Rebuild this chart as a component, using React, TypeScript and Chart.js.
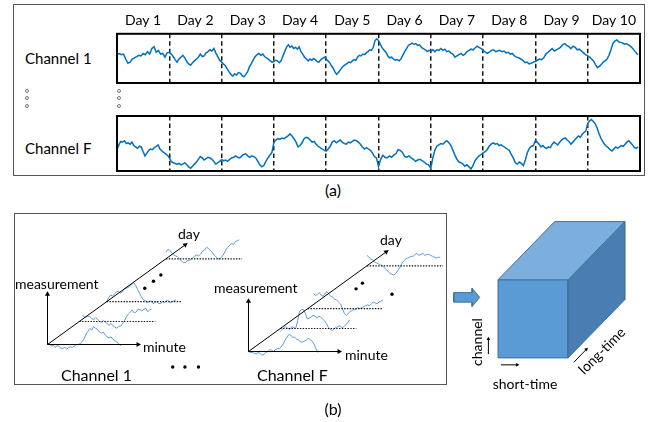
import React, { useEffect, useRef } from "react";
import { Chart, registerables } from "chart.js";

Chart.register(...registerables);

const FONT = "Lato, 'Noto Sans', sans-serif";
const TRACE_BLUE = "#0070C0";
const SKETCH_BLUE = "#5B9BD5";

// ---------- panel (a) data ----------
const dayLabels = ["Day 1", "Day 2", "Day 3", "Day 4", "Day 5", "Day 6", "Day 7", "Day 8", "Day 9", "Day 10"];

const channel1Values = [
  [95, 98, 94, 96, 80, 66, 70, 80, 84, 88, 92, 90, 98, 94, 104, 96, 114, 120, 102, 108, 96, 98, 86, 100],
  [102, 96, 88, 78, 70, 80, 86, 92, 84, 72, 64, 60, 68, 74, 80, 86, 96, 88, 90, 100, 104, 110, 106, 114, 100, 88, 76],
  [70, 64, 58, 48, 38, 30, 24, 32, 28, 36, 34, 26, 22, 30, 40, 56, 66, 78, 88, 94, 98, 92, 96, 88, 84, 80, 74, 70],
  [72, 76, 74, 68, 74, 90, 104, 118, 126, 118, 122, 114, 118, 112, 120, 104, 96, 86, 80, 74, 80, 76, 82, 78, 72, 70, 78, 82, 86],
  [80, 74, 68, 58, 50, 38, 30, 36, 44, 52, 58, 62, 66, 70, 68, 74, 78, 76, 86, 92, 90, 96, 94, 100, 104, 110, 108, 118, 140, 146],
  [140, 128, 116, 108, 102, 90, 84, 86, 80, 76, 78, 74, 80, 92, 104, 114, 124, 128, 132, 128, 130, 124, 126, 118, 114, 110, 104, 108],
  [105, 110, 104, 110, 108, 114, 108, 112, 104, 106, 100, 96, 86, 90, 94, 98, 92, 96, 104, 108, 112, 110, 116, 122, 118, 114],
  [108, 102, 98, 102, 108, 110, 104, 106, 108, 104, 106, 100, 102, 96, 98, 90, 86, 84, 80, 76, 68, 70, 64, 66, 70],
  [72, 76, 80, 78, 84, 96, 102, 108, 114, 106, 110, 114, 118, 126, 130, 124, 120, 114, 122, 118, 110, 112, 106, 100, 94],
  [90, 86, 80, 74, 62, 52, 56, 62, 70, 74, 80, 92, 110, 130, 138, 142, 136, 134, 132, 128, 130, 126, 122, 116, 108, 100, 94],
];

const channelFValues = [
  [65, 78, 88, 86, 90, 82, 84, 80, 86, 76, 72, 68, 74, 72, 58, 46, 54, 62, 66, 64, 70, 74, 78, 66, 60, 56, 52, 48],
  [40, 30, 26, 24, 22, 24, 20, 22, 26, 20, 14, 10, 16, 22, 28, 36, 44, 40, 34, 38, 42, 40, 36, 30, 22, 26, 30],
  [35, 32, 34, 30, 36, 40, 42, 46, 42, 40, 46, 50, 52, 46, 42, 46, 44, 40, 30, 20, 14, 18, 30, 40, 48, 56],
  [85, 92, 96, 94, 98, 96, 100, 104, 110, 104, 96, 86, 72, 76, 84, 96, 100, 98, 92, 86, 88, 80, 74, 70, 66, 62],
  [60, 66, 74, 86, 90, 84, 88, 92, 86, 82, 80, 86, 84, 88, 92, 90, 86, 80, 72, 66, 70, 66, 62, 54, 44, 40],
  [15, 36, 48, 42, 40, 46, 42, 48, 52, 64, 62, 56, 44, 42, 46, 40, 36, 30, 34, 36, 32, 28, 22, 20],
  [10, 40, 62, 74, 78, 82, 80, 86, 90, 84, 76, 62, 48, 36, 28, 26, 22, 16, 20, 14, 8, 18, 32, 40, 46, 50],
  [55, 58, 64, 74, 80, 84, 80, 82, 76, 78, 74, 70, 66, 62, 50, 40, 26, 22, 28, 24, 18, 34, 56, 68, 74, 76],
  [90, 86, 80, 72, 76, 70, 68, 72, 70, 80, 86, 82, 78, 86, 92, 96, 98, 92, 88, 80, 86, 92, 98, 104, 100, 108, 114, 118],
  [140, 148, 152, 146, 140, 128, 112, 98, 88, 80, 74, 70, 64, 60, 66, 72, 68, 72, 76, 74, 80, 86, 90, 84, 78, 70, 68, 72],
];

// ---------- panel (b) sketch data ----------
const sketchDayShift = [0, 33, 61.5, 123];
const sketchAxis = { measurement: 53, minute: 94, dayX: 143, dayY: 105 };
const baselineLengths = [0, 79, 77, 79];
const sketchStep = 2;

const channel1SketchStarts = [0, 3, 0, 0];
const channel1SketchWaves = [
  [0, 1, -1.5, -1, -3, -1, -2, -4, -4, -3, -5, -3, -2.5, -3, -1.5, 0, 0, 1, 3, 6, 11, 14, 17, 15, 19, 17, 16, 13, 12, 13, 10, 8, 7, 8, 5.5, 4, 2.5, 1, -1.5],
  [7, 5, 4.5, 6, 5, 3, 2, 4, 2.5, 0, -1, 1, -0.5, -2, -4, -2, -4.5, -6, -7, -5, -5, -2, 1, 5, 8, 10, 12, 9, 10, 13, 12.5, 11, 13, 14, 10.5, 12, 13],
  [0, 4, 7, 6, 8, 10, 11, 9, 10, 13, 14, 15, 16, 18, 20, 17, 13, 9, 5, 2, 1, -1, 0, 1, -2, -1, 0, -2, -2, 0, -1, 1, 1, -1, 0, 1, 2],
  [7, 10, 9, 6, 4, 3, 2, 0, -2, -4, -4, -2, -2, 0, 1, 3, 4, 3, 5, 8, 9, 12, 11, 9, 7, 4, 2, 0, 0, 2, 5, 9, 12, 14, 16, 15, 18, 19, 20],
];
const channel1SketchDots = [[101, 59.3], [110, 66.7], [117.7, 73.3], [130, -23.7], [142.7, -23.7], [156.7, -23.7]];

const channelFSketchStarts = [0, 0, 6, 0];
const channelFSketchWaves = [
  [0, -1, -1, -2, -2.5, -1, -2, -4, -3, -1, 0, 2, 1.5, 0, 2, 3, 3, 5, 8, 12, 15, 18, 17, 15, 15, 13, 12.5, 10, 10, 11, 12, 14, 12.5, 11, 8, 3, -1],
  [-3, -1, 1, 2, 0, -1, 2, 1, 0, 8, 18, 20, 20, 16, 10, 11, 12, 14, 13, 11, 13, 12, 10, 8, 5, 1, -1, -2, 0, 1, 2, 3, 1, 2, 4, 6, 9],
  [16, 14, 15, 17, 14, 13, 16, 18, 15, 13, 12, 10, 9, 7, 5, 0, -5, -7, -5, -3, -2, -1, -1, 1, 0, 1, 2, 3, 4, 3, 5, 7, 6, 5, 7, 8, 9],
  [11, 9, 7, 6, 4, 3, 2, 1, 0, -2, -4, -6, -8, -9, -10, -8, -5, -2, 2, 5, 7, 8, 9, 10, 10, 12, 13, 11, 12, 13, 11, 12, 12, 11, 10, 9, 8, 9, 9],
];
const channelFSketchDots = [[111.7, 66], [118.3, 72], [149, 60.3]];

// ---------- cube data ----------
const cubeFront = { x: 50, y: 19, w: 73, h: 82 };
const cubeDepth = { dx: 59, dy: 61 };
const blockArrow = { x0: 4, x1: 23, tip: 31, cy: 82.5, body: 5, head: 9.5 };

const baseOptions: any = {
  responsive: false,
  animation: false,
  events: [],
  plugins: { legend: { display: false }, tooltip: { enabled: false } },
};

const framePlugin = {
  id: "frame",
  afterDraw(chart: any) {
    const { ctx, chartArea: a } = chart;
    ctx.save();
    ctx.strokeStyle = "#000";
    ctx.lineWidth = 2;
    ctx.strokeRect(a.left, a.top, a.right - a.left, a.bottom - a.top);
    ctx.restore();
  },
};

function toPoints(days: number[][]) {
  const pts: { x: number; y: number }[] = [];
  days.forEach((vals, d) => vals.forEach((v, j) => pts.push({ x: d + j / vals.length, y: v })));
  return pts;
}

function ChannelChart({ values, showDays, left, top, width, height }: any) {
  const ref = useRef<HTMLCanvasElement>(null);
  useEffect(() => {
    const scales: any = {
      x: {
        type: "linear",
        min: 0,
        max: 10,
        position: "bottom",
        ticks: { display: false, stepSize: 1 },
        grid: {
          drawTicks: false,
          lineWidth: 1.5,
          color: (c: any) => (c.tick && c.tick.value > 0 && c.tick.value < 10 ? "#1a1a1a" : "rgba(0,0,0,0)"),
        },
        border: { display: false, dash: [4.5, 3] },
      },
      y: { type: "linear", min: 2, max: 162, display: false },
    };
    if (showDays) {
      scales.days = {
        type: "category",
        labels: dayLabels,
        position: "top",
        offset: true,
        grid: { display: false, drawTicks: false },
        border: { display: false },
        ticks: { color: "#000", font: { family: FONT, size: 14 }, padding: 5, maxRotation: 0, autoSkip: false },
      };
    }
    const chart = new Chart(ref.current!, {
      type: "line",
      data: {
        datasets: [
          {
            data: toPoints(values),
            borderColor: TRACE_BLUE,
            borderWidth: 1.5,
            pointRadius: 0,
            tension: 0,
            xAxisID: "x",
            yAxisID: "y",
          },
        ],
      },
      options: { ...baseOptions, layout: { padding: { left: 2, right: 2, top: showDays ? 0 : 2, bottom: 2 } }, scales },
      plugins: [framePlugin],
    } as any);
    return () => chart.destroy();
  }, []);
  return <canvas ref={ref} width={width} height={height} style={{ position: "absolute", left, top, width, height }} />;
}

function SketchChart({ waves, starts, dots, left, top }: any) {
  const ref = useRef<HTMLCanvasElement>(null);
  useEffect(() => {
    const slope = sketchAxis.dayY / sketchAxis.dayX;
    const arrow = (pts: any[], rot: number) => ({
      data: pts,
      borderColor: "#000",
      borderWidth: 1,
      pointRadius: [0, 3],
      pointStyle: "triangle",
      pointRotation: rot,
      pointBackgroundColor: "#000",
      pointBorderColor: "#000",
      pointBorderWidth: 0,
      tension: 0,
    });
    const datasets: any[] = [];
    datasets.push(arrow([{ x: 0, y: 0 }, { x: 0, y: sketchAxis.measurement }], 0));
    datasets.push(arrow([{ x: 0, y: 0 }, { x: sketchAxis.minute, y: 0 }], 90));
    datasets.push(
      arrow(
        [{ x: 0, y: 0 }, { x: sketchAxis.dayX, y: sketchAxis.dayY }],
        90 - (Math.atan2(sketchAxis.dayY, sketchAxis.dayX) * 180) / Math.PI
      )
    );
    sketchDayShift.forEach((s, k) => {
      const oy = s * slope;
      if (baselineLengths[k] > 0) {
        datasets.push({
          data: [{ x: s, y: oy }, { x: s + baselineLengths[k], y: oy }],
          borderColor: "#111",
          borderWidth: 1.2,
          borderDash: [1.4, 1.4],
          pointRadius: 0,
        });
      }
      datasets.push({
        data: waves[k].map((v: number, j: number) => ({ x: s + starts[k] + j * sketchStep, y: oy + v })),
        borderColor: SKETCH_BLUE,
        borderWidth: 1,
        pointRadius: 0,
        tension: 0,
      });
    });
    datasets.push({
      data: dots.map(([x, y]: number[]) => ({ x, y })),
      showLine: false,
      pointRadius: 1.7,
      pointBackgroundColor: "#000",
      pointBorderWidth: 0,
    });
    const chart = new Chart(ref.current!, {
      type: "line",
      data: { datasets },
      options: {
        ...baseOptions,
        layout: { padding: 0 },
        scales: {
          x: { type: "linear", min: -14, max: 204, display: false },
          y: { type: "linear", min: -30, max: 128, display: false },
        },
      },
    } as any);
    return () => chart.destroy();
  }, []);
  return <canvas ref={ref} width={218} height={158} style={{ position: "absolute", left, top, width: 218, height: 158 }} />;
}

function CubeChart() {
  const ref = useRef<HTMLCanvasElement>(null);
  useEffect(() => {
    const f = cubeFront;
    const d = cubeDepth;
    const poly = (pts: number[][], color: string) => ({
      data: [...pts, pts[0]].map(([x, y]) => ({ x, y })),
      fill: "shape",
      backgroundColor: color,
      borderColor: "#41719C",
      borderWidth: 1,
      pointRadius: 0,
      tension: 0,
    });
    const arrow = (pts: number[][], rot: number) => ({
      data: pts.map(([x, y]) => ({ x, y })),
      borderColor: "#000",
      borderWidth: 1,
      pointRadius: [0, 2.2],
      pointStyle: "triangle",
      pointRotation: rot,
      pointBackgroundColor: "#000",
      pointBorderWidth: 0,
      tension: 0,
    });
    const a = blockArrow;
    const datasets = [
      poly(
        [[f.x, f.y + f.h], [f.x + d.dx, f.y + f.h + d.dy], [f.x + f.w + d.dx, f.y + f.h + d.dy], [f.x + f.w, f.y + f.h]],
        "#7DAFDE"
      ),
      poly(
        [[f.x + f.w, f.y + f.h], [f.x + f.w + d.dx, f.y + f.h + d.dy], [f.x + f.w + d.dx, f.y + d.dy], [f.x + f.w, f.y]],
        "#4A7EB2"
      ),
      poly([[f.x, f.y], [f.x, f.y + f.h], [f.x + f.w, f.y + f.h], [f.x + f.w, f.y]], "#5B9BD5"),
      poly(
        [
          [a.x0, a.cy - a.body],
          [a.x1, a.cy - a.body],
          [a.x1, a.cy - a.head],
          [a.tip, a.cy],
          [a.x1, a.cy + a.head],
          [a.x1, a.cy + a.body],
          [a.x0, a.cy + a.body],
        ],
        "#5B9BD5"
      ),
      arrow([[40, 23], [40, 39]], 0),
      arrow([[53, 11.7], [70, 11.7]], 90),
      arrow([[129, 14.3], [142, 28]], 45),
    ];
    const chart = new Chart(ref.current!, {
      type: "line",
      data: { datasets },
      options: {
        ...baseOptions,
        layout: { padding: 0 },
        scales: {
          x: { type: "linear", min: 0, max: 200, display: false },
          y: { type: "linear", min: 0, max: 170, display: false },
        },
      },
    } as any);
    return () => chart.destroy();
  }, []);
  return <canvas ref={ref} width={200} height={170} style={{ position: "absolute", left: 446, top: 210, width: 200, height: 170 }} />;
}

function Text({ x, y, size, children, rotate = 0, anchor = "center" }: any) {
  return (
    <div
      style={{
        position: "absolute",
        left: x,
        top: y,
        transform: `translate(${anchor === "left" ? "0" : "-50%"}, -50%) rotate(${rotate}deg)`,
        fontFamily: FONT,
        fontSize: size,
        lineHeight: 1.2,
        whiteSpace: "nowrap",
        color: "#000",
      }}
    >
      {children}
    </div>
  );
}

function Ring({ x, y }: any) {
  return (
    <div
      style={{
        position: "absolute",
        left: x - 2,
        top: y - 2,
        width: 4,
        height: 4,
        boxSizing: "border-box",
        border: "1px solid #777",
        borderRadius: "50%",
      }}
    />
  );
}

export default function App() {
  return (
    <div style={{ position: "absolute", left: 0, top: 0, width: 656, height: 422, background: "#fff", overflow: "hidden" }}>
      {/* panel (a) frame */}
      <div style={{ position: "absolute", left: 13, top: 4, width: 632, height: 172, boxSizing: "border-box", border: "1.5px solid #555" }} />
      <ChannelChart values={channel1Values} showDays left={115} top={7} width={527} height={78} />
      <ChannelChart values={channelFValues} showDays={false} left={115} top={114} width={527} height={59} />
      <Text x={25} y={58} size={15} anchor="left">Channel 1</Text>
      <Text x={25} y={148} size={15} anchor="left">Channel F</Text>
      {[91, 98, 106].map((y) => (
        <React.Fragment key={y}>
          <Ring x={27} y={y} />
          <Ring x={119} y={y} />
        </React.Fragment>
      ))}
      <Text x={333} y={190} size={16}>(a)</Text>

      {/* panel (b) frame */}
      <div style={{ position: "absolute", left: 14, top: 213, width: 433, height: 172, boxSizing: "border-box", border: "1.5px solid #555" }} />
      <SketchChart waves={channel1SketchWaves} starts={channel1SketchStarts} dots={channel1SketchDots} left={30} top={219} />
      <SketchChart waves={channelFSketchWaves} starts={channelFSketchStarts} dots={channelFSketchDots} left={231} top={226} />
      <Text x={15} y={284} size={14} anchor="left">measurement</Text>
      <Text x={143} y={347} size={14} anchor="left">minute</Text>
      <Text x={178} y={234} size={14} anchor="left">day</Text>
      <Text x={61} y={375} size={16} anchor="left">Channel 1</Text>
      <Text x={214} y={288} size={14} anchor="left">measurement</Text>
      <Text x={345} y={355} size={14} anchor="left">minute</Text>
      <Text x={380} y={240} size={14} anchor="left">day</Text>
      <Text x={257} y={375} size={16} anchor="left">Channel F</Text>

      <CubeChart />
      <Text x={477} y={342} size={14} rotate={-90}>channel</Text>
      <Text x={525} y={384} size={14}>short-time</Text>
      <Text x={602} y={351} size={14} rotate={-45}>long-time</Text>
      <Text x={333} y={409} size={16}>(b)</Text>
    </div>
  );
}
